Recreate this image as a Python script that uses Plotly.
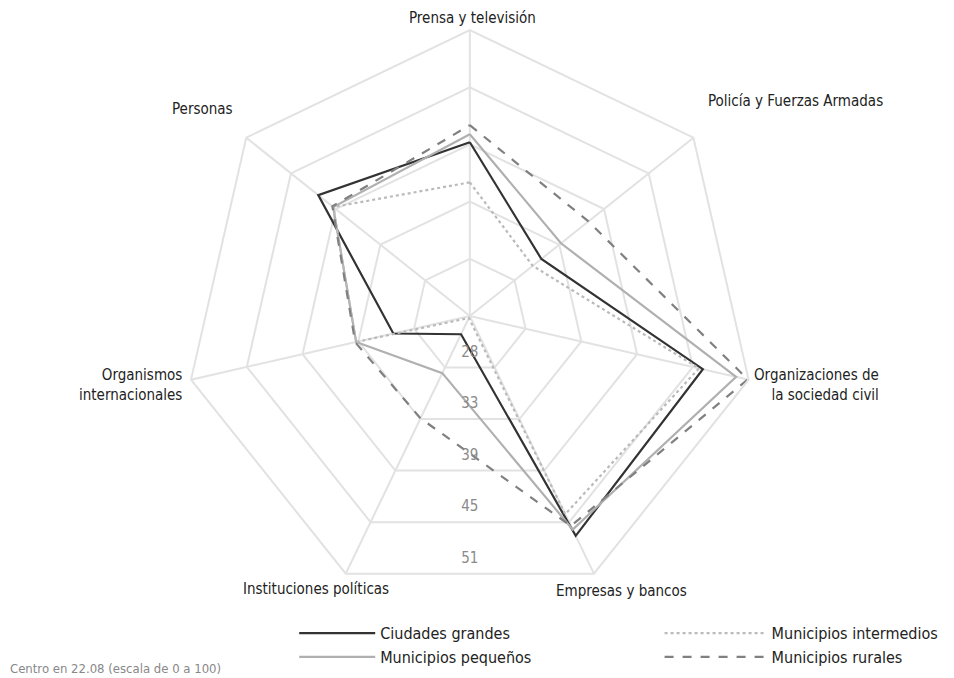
import math
import plotly.graph_objects as go

# Categories (clockwise from the top)
categorias = [
    "Prensa y televisión",
    "Policía y Fuerzas Armadas",
    "Organizaciones de<br>la sociedad civil",
    "Empresas y bancos",
    "Instituciones políticas",
    "Organismos<br>internacionales",
    "Personas",
]

# Values (scale 0-100, centre at 22.08)
ciudades_grandes = [39.4, 31.2, 45.9, 46.4, 24.1, 29.9, 41.4]
municipios_intermedios = [35.4, 30.1, 45.5, 44.0, 22.3, 33.7, 39.5]
municipios_pequenos = [40.2, 33.7, 49.3, 45.7, 28.4, 33.7, 39.5]
municipios_rurales = [41.1, 37.2, 50.5, 45.3, 33.4, 33.8, 39.6]

centro = 22.08
anillos = [27.78, 33.48, 39.18, 44.88, 50.58]
anillos_texto = ["28", "33", "39", "45", "51"]

W, H = 954, 678
PAGE_OFF = 8  # the html page body adds an 8px margin
FONT = "Liberation Sans Narrow, DejaVu Sans Condensed, Roboto, sans-serif"
GRID = "#e2e2e2"

series = [
    ("Ciudades grandes", ciudades_grandes, "#333333", "solid", "legend"),
    ("Municipios pequeños", municipios_pequenos, "#b0b0b0", "solid", "legend"),
    ("Municipios intermedios", municipios_intermedios, "#bababa", "dot", "legend2"),
    ("Municipios rurales", municipios_rurales, "#808080", "dash", "legend2"),
]

fig = go.Figure()
for name, vals, color, dash, leg in series:
    fig.add_trace(go.Scatterpolar(
        r=vals + vals[:1],
        theta=categorias + categorias[:1],
        mode="lines",
        name=name,
        legend=leg,
        line=dict(color=color, width=2.2, dash=dash),
    ))

# ring labels, set straight down, just inside each ring's bottom edge
fig.add_trace(go.Scatterpolar(
    r=[centro + (a - centro) * math.cos(math.pi / 7) - 0.7 for a in anillos],
    theta=[180] * len(anillos),
    mode="text",
    text=anillos_texto,
    textposition="top center",
    textfont=dict(color="#8a8a8a", size=15),
    showlegend=False,
    hoverinfo="skip",
    subplot="polar2",
))

# category labels sit outside the web, like the original (pixel anchors on screen)
etiquetas_xy = [(472, 17), (706, 100), (881, 384), (621, 590),
                (316, 588), (184, 384), (235, 108)]
etiquetas_anchor = ["center", "left", "right", "center", "center", "right", "right"]

anotaciones = []
for txt, (px, py), xa in zip(categorias, etiquetas_xy, etiquetas_anchor):
    anotaciones.append(dict(
        text=txt, xref="paper", yref="paper",
        x=(px - PAGE_OFF) / W, y=1 - (py - PAGE_OFF + 1) / H,
        xanchor=xa, yanchor="middle", align=xa,
        showarrow=False, font=dict(size=15, color="#222222"),
    ))
anotaciones.append(dict(
    text="Centro en 22.08 (escala de 0 a 100)",
    xref="paper", yref="paper", x=0.0, y=0.012,
    xanchor="left", yanchor="bottom", showarrow=False,
    font=dict(size=13, color="#888888"),
))

dominio = dict(x=[0.1843, 0.7839], y=[0.1239, 0.9675])

fig.update_layout(
    width=W,
    height=H,
    margin=dict(l=0, r=0, t=0, b=0, autoexpand=False),
    paper_bgcolor="white",
    font=dict(family=FONT, size=15, color="#222222"),
    polar=dict(
        domain=dominio,
        bgcolor="white",
        gridshape="linear",
        radialaxis=dict(
            range=[centro, anillos[-1]],
            tickvals=anillos,
            showticklabels=False,
            showline=False,
            ticks="",
            gridcolor=GRID,
            gridwidth=2,
        ),
        angularaxis=dict(
            categoryorder="array",
            categoryarray=categorias,
            rotation=90,
            direction="clockwise",
            showline=True,
            linecolor=GRID,
            linewidth=2,
            gridcolor=GRID,
            gridwidth=2,
            ticks="",
            showticklabels=False,
        ),
    ),
    polar2=dict(
        domain=dominio,
        bgcolor="rgba(0,0,0,0)",
        radialaxis=dict(range=[centro, anillos[-1]], visible=False),
        angularaxis=dict(type="linear", rotation=90, direction="clockwise",
                         visible=False),
    ),
    legend=dict(
        x=0.3, xanchor="left", y=0.103, yanchor="top",
        itemwidth=76, bgcolor="rgba(0,0,0,0)",
        font=dict(size=16, color="#222222"),
    ),
    legend2=dict(
        x=0.683, xanchor="left", y=0.103, yanchor="top",
        itemwidth=102, bgcolor="rgba(0,0,0,0)",
        font=dict(size=16, color="#222222"),
    ),
    annotations=anotaciones,
)

fig.write_html("out.html")
